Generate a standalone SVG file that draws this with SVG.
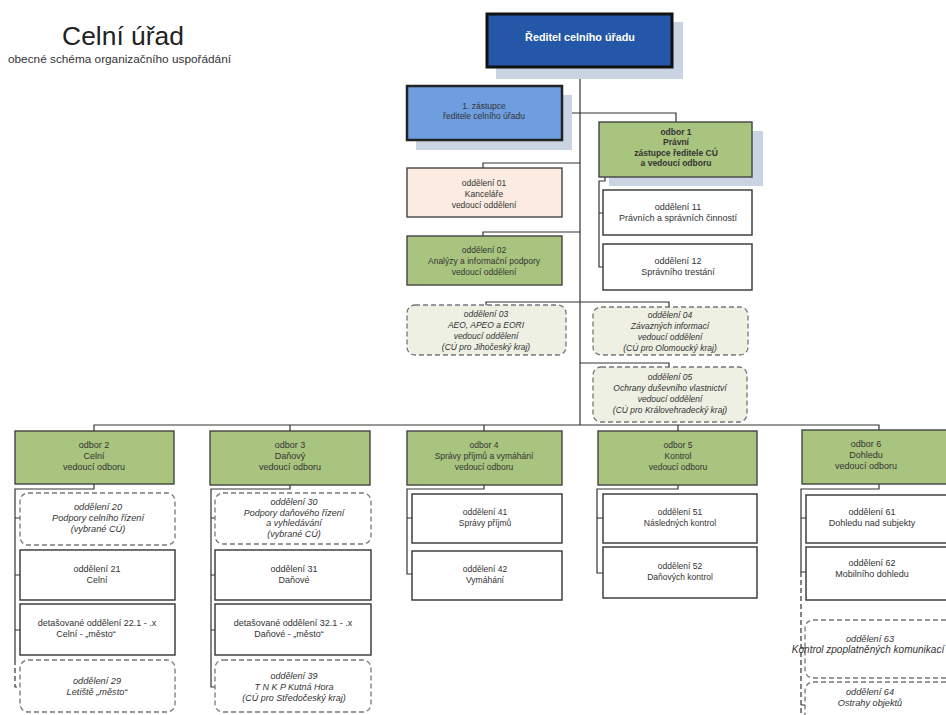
<svg xmlns="http://www.w3.org/2000/svg" width="946" height="715" viewBox="0 0 946 715">
<style>
text{font-family:"Liberation Sans",Arial,sans-serif;font-size:8.5px;fill:#333;text-anchor:middle}
.it{font-style:italic}
.b{font-weight:bold}
.s9{font-size:9px}
.s92{font-size:9.2px}
.sh{fill:#c9d3e1}
.box{fill:#fff;stroke:#333;stroke-width:1.4}
.grn{fill:#a9c47f;stroke:#444;stroke-width:1.4}
.dash{fill:#fff;stroke:#777;stroke-width:1.3;stroke-dasharray:5,3}
.dg{fill:#eef0e4}
.ln{fill:none;stroke:#333;stroke-width:1.2}
.lnd{fill:none;stroke:#333;stroke-width:1.2;stroke-dasharray:5,3}
</style>
<rect width="946" height="715" fill="#fff"/>
<g id="title">
<text x="123" y="45" style="font-size:26.4px;fill:#222">Celní úřad</text>
<text x="8" y="63" style="font-size:11.8px;text-anchor:start;fill:#333">obecné schéma organizačního uspořádání</text>
</g>
<g id="connectors">
<path class="ln" d="M580,67 V425"/>
<path class="ln" d="M562,113 H676 V122"/>
<path class="ln" d="M580,163 H483 V168"/>
<path class="ln" d="M580,232 H483 V236"/>
<path class="ln" d="M580,302 H486 V305"/>
<path class="ln" d="M580,302 H669 V307"/>
<path class="ln" d="M580,363 H669 V367"/>
<path class="ln" d="M605,177 V181 H599 V267 H603 M599,213 H603"/>
<path class="ln" d="M94,431 V425 H879 V430"/>
<path class="ln" d="M290,425 V431 M484,425 V431 M678,425 V431"/>
<path class="ln" d="M94,484 V489 H15 V660 M15,518 H20 M15,575 H20 M15,630 H20"/>
<path class="lnd" d="M15,660 V687 H20"/>
<path class="ln" d="M290,485 V489 H211 V687 H215 M211,518 H215 M211,575 H215 M211,630 H215"/>
<path class="ln" d="M484,485 V489 H407 V574 H412 M407,518 H412"/>
<path class="ln" d="M678,485 V489 H597 V573 H603 M597,518 H603"/>
<path class="ln" d="M879,484 V489 H801 V572 H806 M801,518 H806"/>
<path class="lnd" d="M801,572 V715 M801,648 H805 M801,705 H805"/>
</g>
<g id="reditel">
<rect class="sh" x="496" y="22" width="187" height="57"/>
<rect x="487" y="14" width="185" height="53" fill="#2457a8" stroke="#111" stroke-width="3"/>
<text x="580" y="41" class="b" style="fill:#fff;font-size:10.8px">Ředitel celního úřadu</text>
</g>
<g id="zastupce">
<rect class="sh" x="416" y="95" width="156" height="55"/>
<rect x="407" y="86" width="155" height="54" fill="#6e9ee0" stroke="#222" stroke-width="2.5"/>
<text x="484" y="109">1. zástupce</text>
<text x="484" y="119">ředitele celního úřadu</text>
</g>
<g id="odbor1">
<rect class="sh" x="609" y="131" width="154" height="55"/>
<rect class="grn" x="599" y="122" width="153" height="55"/>
<text x="676" y="135" class="b">odbor 1</text>
<text x="676" y="145" class="b">Právní</text>
<text x="676" y="156" class="b">zástupce ředitele CÚ</text>
<text x="676" y="166" class="b">a vedoucí odboru</text>
</g>
<g id="odd01">
<rect x="407" y="168" width="155" height="49" fill="#fbebe0" stroke="#444" stroke-width="1.4"/>
<text x="484" y="186">oddělení 01</text>
<text x="484" y="197">Kanceláře</text>
<text x="484" y="208">vedoucí oddělení</text>
</g>
<g id="odd02">
<rect class="grn" x="407" y="236" width="155" height="49"/>
<text x="484" y="253">oddělení 02</text>
<text x="484" y="264">Analýzy a informační podpory</text>
<text x="484" y="275">vedoucí oddělení</text>
</g>
<g id="odd11">
<rect class="box" x="603" y="190" width="149" height="45"/>
<text x="678" y="210" class="s9">oddělení 11</text>
<text x="678" y="221" class="s9">Právních a správních činností</text>
</g>
<g id="odd12">
<rect class="box" x="603" y="244" width="149" height="46"/>
<text x="678" y="264" class="s9">oddělení 12</text>
<text x="678" y="275" class="s9">Správního trestání</text>
</g>
<g id="odd03">
<rect class="dash dg" x="407" y="305" width="159" height="50" rx="8"/>
<text x="486" y="317" class="it">oddělení 03</text>
<text x="486" y="328" class="it">AEO, APEO a EORI</text>
<text x="486" y="339" class="it">vedoucí oddělení</text>
<text x="486" y="350" class="it">(CÚ pro Jihočeský kraj)</text>
</g>
<g id="odd04">
<rect class="dash dg" x="593" y="307" width="155" height="48" rx="8"/>
<text x="670" y="318" class="it">oddělení 04</text>
<text x="670" y="329" class="it">Závazných informací</text>
<text x="670" y="340" class="it">vedoucí oddělení</text>
<text x="670" y="351" class="it">(CÚ pro Olomoucký kraj)</text>
</g>
<g id="odd05">
<rect class="dash dg" x="593" y="367" width="154" height="55" rx="8"/>
<text x="670" y="380" class="it">oddělení 05</text>
<text x="670" y="391" class="it">Ochrany duševního vlastnictví</text>
<text x="670" y="402" class="it">vedoucí oddělení</text>
<text x="670" y="413" class="it">(CÚ pro Královehradecký kraj)</text>
</g>
<g id="odbor2">
<rect class="grn" x="15" y="431" width="159" height="53"/>
<text x="94" y="448" class="s9">odbor 2</text>
<text x="94" y="459" class="s9">Celní</text>
<text x="94" y="470" class="s9">vedoucí odboru</text>
</g>
<g id="odd20">
<rect class="dash" x="20" y="493" width="155" height="52" rx="8"/>
<text x="98" y="510" class="it s92">oddělení 20</text>
<text x="98" y="521" class="it s92">Podpory celního řízení</text>
<text x="98" y="532" class="it s92">(vybrané CÚ)</text>
</g>
<g id="odd21">
<rect class="box" x="20" y="550" width="155" height="50"/>
<text x="97" y="572" class="s9">oddělení 21</text>
<text x="97" y="583" class="s9">Celní</text>
</g>
<g id="odd22">
<rect class="box" x="20" y="604" width="155" height="51"/>
<text x="97" y="626" class="s9">detašované oddělení 22.1 - .x</text>
<text x="86" y="637" class="s9">Celní - „město“</text>
</g>
<g id="odd29">
<rect class="dash" x="20" y="660" width="155" height="52" rx="8"/>
<text x="97" y="684" class="it s92">oddělení 29</text>
<text x="97" y="695" class="it s92">Letiště „město“</text>
</g>
<g id="odbor3">
<rect class="grn" x="210" y="431" width="160" height="54"/>
<text x="290" y="448" class="s9">odbor 3</text>
<text x="290" y="459" class="s9">Daňový</text>
<text x="290" y="470" class="s9">vedoucí odboru</text>
</g>
<g id="odd30">
<rect class="dash" x="215" y="493" width="156" height="51" rx="8"/>
<text x="294" y="505" class="it s9">oddělení 30</text>
<text x="294" y="516" class="it s9">Podpory daňového řízení</text>
<text x="294" y="526" class="it s9">a vyhledávání</text>
<text x="294" y="537" class="it s9">(vybrané CÚ)</text>
</g>
<g id="odd31">
<rect class="box" x="215" y="550" width="156" height="50"/>
<text x="294" y="572" class="s9">oddělení 31</text>
<text x="294" y="583" class="s9">Daňové</text>
</g>
<g id="odd32">
<rect class="box" x="215" y="604" width="156" height="51"/>
<text x="293" y="626" class="s9">detašované oddělení 32.1 - .x</text>
<text x="289" y="637" class="s9">Daňové  - „město“</text>
</g>
<g id="odd39">
<rect class="dash" x="215" y="660" width="156" height="52" rx="8"/>
<text x="294" y="679" class="it s9">oddělení 39</text>
<text x="294" y="690" class="it s9">T N K P  Kutná Hora</text>
<text x="294" y="701" class="it s9">(CÚ pro Středočeský kraj)</text>
</g>
<g id="odbor4">
<rect class="grn" x="407" y="431" width="155" height="54"/>
<text x="484" y="448">odbor 4</text>
<text x="484" y="459">Správy příjmů a vymáhání</text>
<text x="484" y="470">vedoucí odboru</text>
</g>
<g id="odd41">
<rect class="box" x="412" y="494" width="150" height="49"/>
<text x="485" y="515">oddělení 41</text>
<text x="485" y="526">Správy příjmů</text>
</g>
<g id="odd42">
<rect class="box" x="412" y="551" width="150" height="49"/>
<text x="485" y="572">oddělení 42</text>
<text x="485" y="583">Vymáhání</text>
</g>
<g id="odbor5">
<rect class="grn" x="598" y="431" width="159" height="54"/>
<text x="678" y="448">odbor 5</text>
<text x="678" y="459">Kontrol</text>
<text x="678" y="470">vedoucí odboru</text>
</g>
<g id="odd51">
<rect class="box" x="603" y="494" width="154" height="49"/>
<text x="680" y="515">oddělení 51</text>
<text x="680" y="526">Následných kontrol</text>
</g>
<g id="odd52">
<rect class="box" x="603" y="547" width="154" height="51"/>
<text x="680" y="569">oddělení 52</text>
<text x="680" y="580">Daňových kontrol</text>
</g>
<g id="odbor6">
<rect class="grn" x="802" y="430" width="160" height="54"/>
<text x="866" y="447" class="s9">odbor 6</text>
<text x="866" y="458" class="s9">Dohledu</text>
<text x="866" y="469" class="s9">vedoucí odboru</text>
</g>
<g id="odd61">
<rect class="box" x="806" y="495" width="156" height="48"/>
<text x="872" y="515" class="s9">oddělení 61</text>
<text x="872" y="526" class="s9">Dohledu nad subjekty</text>
</g>
<g id="odd62">
<rect class="box" x="806" y="547" width="156" height="53"/>
<text x="872" y="566" class="s9">oddělení 62</text>
<text x="872" y="577" class="s9">Mobilního dohledu</text>
</g>
<g id="odd63">
<rect class="dash" x="805" y="620" width="157" height="58" rx="8"/>
<text x="870" y="642" class="it s92">oddělení 63</text>
<text x="868" y="653" class="it" style="font-size:10px">Kontrol zpoplatněných komunikací</text>
</g>
<g id="odd64">
<rect class="dash" x="805" y="682" width="157" height="50" rx="8"/>
<text x="870" y="695" class="it s92">oddělení 64</text>
<text x="870" y="706" class="it s92">Ostrahy objektů</text>
</g>
</svg>
